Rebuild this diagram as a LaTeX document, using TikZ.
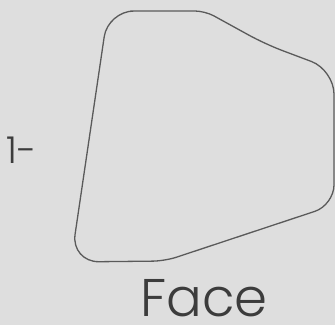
\documentclass[tikz,border=0pt]{standalone}
\usepackage{fontspec}
\setmainfont{Poppins Light}
\usetikzlibrary{calc}
\definecolor{paper}{HTML}{DEDEDE}
\definecolor{outline}{HTML}{5A5A5A}
\definecolor{ink}{HTML}{3C3C3C}
\begin{document}
\begin{tikzpicture}[x=1pt,y=-1pt]
\fill[paper] (0,0) rectangle (335,325);
% corners of the face outline
\coordinate (tl) at (108,11);
\coordinate (tm) at (205,11);
\coordinate (sh) at (265,44);
\coordinate (tr) at (334,70);
\coordinate (br) at (334,205);
\coordinate (bm) at (165,261);
\coordinate (bl) at (71,262);
\draw[outline,line width=1.3pt,line join=round]
  ($(tl)!0.5!(tm)$) [rounded corners=10pt] -- (tm) [rounded corners=18pt] -- (sh)
  [rounded corners=24pt] -- (tr) [rounded corners=20pt] -- (br)
  [rounded corners=12pt] -- (bm) [rounded corners=28pt] -- (bl)
  [rounded corners=26pt] -- (tl) -- cycle;
\node[anchor=base west,inner sep=0,text=ink,font=\fontsize{37}{40}\selectfont] (num) at (6,163) {1-};
\node[anchor=base west,inner sep=0,text=ink,font=\fontsize{53}{58}\selectfont] (title) at (140,316) {Face};
\end{tikzpicture}
\end{document}
